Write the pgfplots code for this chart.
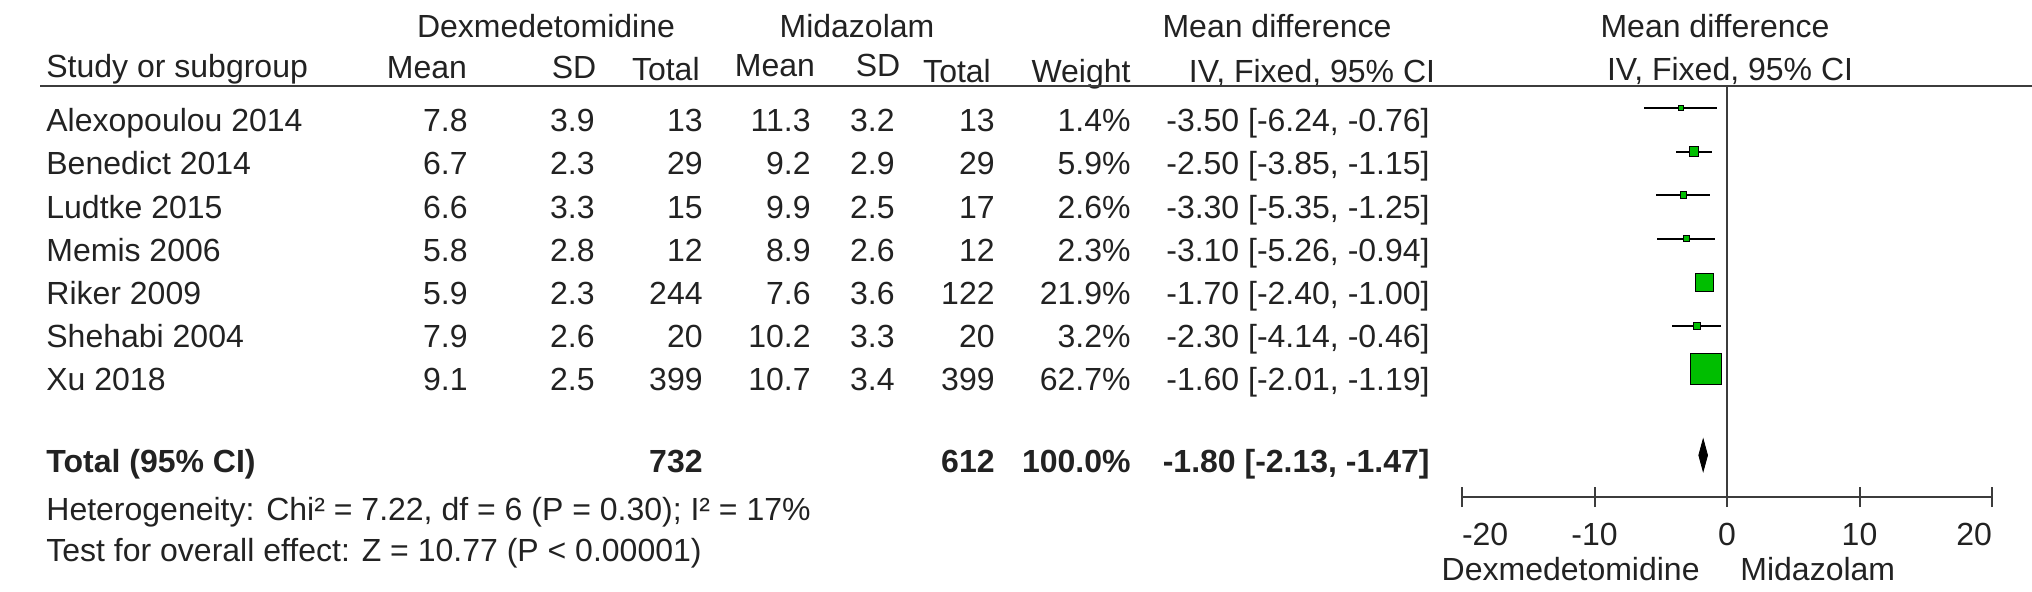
\documentclass[border=0pt]{standalone}
\usepackage{pgfplots}
\pgfplotsset{compat=1.18}
\usepackage{fontspec}
\setmainfont{Liberation Sans}
\definecolor{txt}{RGB}{34,34,34}
\definecolor{sqg}{RGB}{0,190,0}
\definecolor{rulec}{RGB}{60,60,60}
\newcommand\fnt{\fontsize{16}{19}\selectfont}

\begin{document}
\begin{tikzpicture}[font=\fnt, text=txt]
\path[use as bounding box] (0,0) rectangle (1016pt,295.5pt);

% table part, coordinates in pixels from the top left corner
\begin{scope}[shift={(0pt,295.5pt)}, x=0.5pt, y=-0.5pt, every node/.style={inner sep=0pt}]
  % header row 1
  \node[anchor=base] at (546,37) {Dexmedetomidine};
  \node[anchor=base] at (857,37) {Midazolam};
  \node[anchor=base] at (1277,37) {Mean difference};
  \node[anchor=base] at (1715,37) {Mean difference};
  % header row 2
  \node[anchor=base west] at (46,77) {Study or subgroup};
  \node[anchor=base] at (427,78) {Mean};
  \node[anchor=base] at (574,78) {SD};
  \node[anchor=base east] at (700,80) {Total};
  \node[anchor=base] at (775,76) {Mean};
  \node[anchor=base] at (878,76) {SD};
  \node[anchor=base] at (957,82) {Total};
  \node[anchor=base] at (1081,82) {Weight};
  \node[anchor=base] at (1312,82) {IV, Fixed, 95\% CI};
  \node[anchor=base] at (1730,80) {IV, Fixed, 95\% CI};
  \draw[rulec, line width=1.4pt] (40,86) -- (2032,86);

  % study rows
  \foreach \yb/\st/\ma/\sa/\na/\mb/\sb/\nb/\w/\ci in {
    131/Alexopoulou 2014/7.8/3.9/13/11.3/3.2/13/1.4\%/{-3.50 [-6.24, -0.76]},
    174/Benedict 2014/6.7/2.3/29/9.2/2.9/29/5.9\%/{-2.50 [-3.85, -1.15]},
    218/Ludtke 2015/6.6/3.3/15/9.9/2.5/17/2.6\%/{-3.30 [-5.35, -1.25]},
    261/Memis 2006/5.8/2.8/12/8.9/2.6/12/2.3\%/{-3.10 [-5.26, -0.94]},
    304/Riker 2009/5.9/2.3/244/7.6/3.6/122/21.9\%/{-1.70 [-2.40, -1.00]},
    347/Shehabi 2004/7.9/2.6/20/10.2/3.3/20/3.2\%/{-2.30 [-4.14, -0.46]},
    390/Xu 2018/9.1/2.5/399/10.7/3.4/399/62.7\%/{-1.60 [-2.01, -1.19]}} {
    \node[anchor=base west] at (46,\yb) {\st};
    \node[anchor=base east] at (468,\yb) {\ma};
    \node[anchor=base east] at (595,\yb) {\sa};
    \node[anchor=base east] at (703,\yb) {\na};
    \node[anchor=base east] at (811,\yb) {\mb};
    \node[anchor=base east] at (895,\yb) {\sb};
    \node[anchor=base east] at (995,\yb) {\nb};
    \node[anchor=base east] at (1131,\yb) {\w};
    \node[anchor=base east] at (1430,\yb) {\ci};
  }

  % total row
  \node[anchor=base west] at (46,472) {\bfseries Total (95\% CI)};
  \node[anchor=base east] at (703,472) {\bfseries 732};
  \node[anchor=base east] at (995,472) {\bfseries 612};
  \node[anchor=base east] at (1131,472) {\bfseries 100.0\%};
  \node[anchor=base east] at (1430,472) {\bfseries -1.80 [-2.13, -1.47]};
  \node[anchor=base west] at (46,520) {Heterogeneity: Chi² = 7.22, df = 6 (P = 0.30); I² = 17\%};
  \node[anchor=base west] at (46,561) {Test for overall effect: Z = 10.77 (P < 0.00001)};

  % favours labels
  \node[anchor=base east] at (1700,580) {Dexmedetomidine};
  \node[anchor=base west] at (1740,580) {Midazolam};
\end{scope}

% forest plot
\begin{axis}[
    at={(731pt,47pt)}, anchor=south west,
    width=265pt, height=205.5pt, scale only axis,
    xmin=-20, xmax=20, ymin=-9.94, ymax=-0.494,
    axis x line*=bottom, hide y axis,
    xtick={-20,-10,0,10,20},
    xticklabels={\makebox[0pt][l]{-20},-10,0,10,\makebox[0pt][r]{20}},
    major tick length=10pt, tick align=center,
    every tick/.style={rulec, line width=1pt},
    axis line style={rulec, line width=1pt},
    xticklabel style={font=\fnt, text=txt, inner sep=0pt, anchor=north, yshift=-8pt},
    clip=false,
]
  % line of no effect
  \addplot[rulec, line width=1pt] coordinates {(0,-0.494) (0,-9.94)};
  % confidence intervals
  \addplot[black, line width=1pt] coordinates {(-6.24,-1) (-0.76,-1)};
  \addplot[black, line width=1pt] coordinates {(-3.85,-2) (-1.15,-2)};
  \addplot[black, line width=1pt] coordinates {(-5.35,-3) (-1.25,-3)};
  \addplot[black, line width=1pt] coordinates {(-5.26,-4) (-0.94,-4)};
  \addplot[black, line width=1pt] coordinates {(-2.40,-5) (-1.00,-5)};
  \addplot[black, line width=1pt] coordinates {(-4.14,-6) (-0.46,-6)};
  \addplot[black, line width=1pt] coordinates {(-2.01,-7) (-1.19,-7)};
  % point estimates, size by weight
  \addplot[only marks, mark=square*, mark size=1.16pt, mark options={draw=none, fill=sqg}] coordinates {(-3.50,-1)};
  \addplot[only marks, mark=square*, mark size=2.38pt, mark options={draw=none, fill=sqg}] coordinates {(-2.50,-2)};
  \addplot[only marks, mark=square*, mark size=1.58pt, mark options={draw=none, fill=sqg}] coordinates {(-3.30,-3)};
  \addplot[only marks, mark=square*, mark size=1.48pt, mark options={draw=none, fill=sqg}] coordinates {(-3.10,-4)};
  \addplot[only marks, mark=square*, mark size=4.58pt, mark options={draw=none, fill=sqg}] coordinates {(-1.70,-5)};
  \addplot[only marks, mark=square*, mark size=1.75pt, mark options={draw=none, fill=sqg}] coordinates {(-2.30,-6)};
  \addplot[only marks, mark=square*, mark size=7.75pt, mark options={draw=none, fill=sqg}] coordinates {(-1.60,-7)};
  % pooled estimate
  \addplot[fill=black, draw=black, line width=0.4pt] coordinates {(-2.13,-8.98) (-1.80,-8.61) (-1.47,-8.98) (-1.80,-9.35) (-2.13,-8.98)};
\end{axis}
\end{tikzpicture}
\end{document}
